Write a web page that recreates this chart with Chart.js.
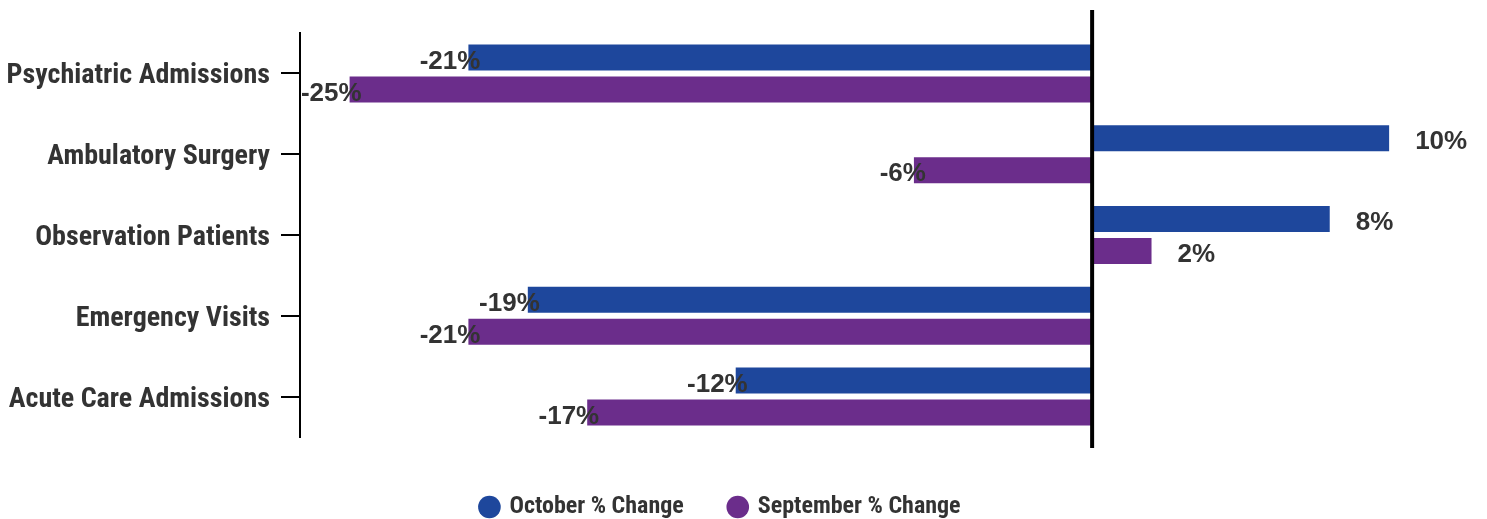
<!DOCTYPE html>
<html>
<head>
<meta charset="utf-8">
<script src="https://cdn.jsdelivr.net/npm/chart.js@4"></script>
<style>
  html, body { margin: 0; padding: 0; background: #fff; }
  #wrap { width: 1487px; height: 519px; }
</style>
</head>
<body>
<div id="wrap"><canvas id="changeChart" width="1487" height="519"></canvas></div>
<script>
// Data
const categories = ['Psychiatric Admissions', 'Ambulatory Surgery', 'Observation Patients', 'Emergency Visits', 'Acute Care Admissions'];
const octoberChange = [-21, 10, 8, -19, -12];
const septemberChange = [-25, -6, 2, -21, -17];
const seriesNames = ['October % Change', 'September % Change'];

const condensed = "'Roboto Condensed', 'Liberation Sans Narrow', 'DejaVu Sans Condensed', sans-serif";

// Thick black line at zero
const zeroLine = {
    id: 'zeroLine',
    afterDatasetsDraw(chart) {
        const ctx = chart.ctx;
        const x = chart.scales.x.getPixelForValue(0);
        ctx.save();
        ctx.strokeStyle = '#000';
        ctx.lineWidth = 4;
        ctx.beginPath();
        ctx.moveTo(x, chart.chartArea.top - 23);
        ctx.lineTo(x, chart.chartArea.bottom + 11);
        ctx.stroke();
        ctx.restore();
    }
};

// Value labels at the end of each bar
const valueLabels = {
    id: 'valueLabels',
    afterDatasetsDraw(chart) {
        const ctx = chart.ctx;
        ctx.save();
        ctx.font = "bold 26px 'Liberation Sans', Arial, sans-serif";
        ctx.fillStyle = '#333333';
        ctx.textBaseline = 'middle';
        chart.data.datasets.forEach((ds, i) => {
            chart.getDatasetMeta(i).data.forEach((bar, j) => {
                const v = ds.data[j];
                if (v < 0) {
                    ctx.textAlign = 'right';
                    ctx.fillText(v + '%', bar.x + 12, bar.y + 4);
                } else {
                    ctx.textAlign = 'left';
                    ctx.fillText(v + '%', bar.x + 26, bar.y + 4);
                }
            });
        });
        ctx.restore();
    }
};

const ctx = document.getElementById('changeChart').getContext('2d');
new Chart(ctx, {
    type: 'bar',
    data: {
        labels: categories,
        datasets: [{
            label: seriesNames[0],
            data: octoberChange,
            backgroundColor: '#1E479C'
        }, {
            label: seriesNames[1],
            data: septemberChange,
            backgroundColor: '#6B2D8B'
        }]
    },
    options: {
        indexAxis: 'y',
        responsive: false,
        animation: false,
        categoryPercentage: 0.792,
        barPercentage: 0.8125,
        layout: { padding: { top: 33, right: 45, left: 0, bottom: 0 } },
        scales: {
            x: {
                min: -26.67,
                max: 11.78,
                ticks: { display: false },
                grid: { display: false },
                border: { display: false },
                afterFit(scale) { scale.height = 12; }
            },
            y: {
                grid: {
                    offset: false,
                    drawOnChartArea: false,
                    tickLength: 19,
                    color: '#000',
                    lineWidth: 2
                },
                border: { display: true, color: '#000', width: 2 },
                ticks: {
                    color: '#333333',
                    padding: 11,
                    labelOffset: 3,
                    font: { family: condensed, size: 28, weight: 'bold' }
                },
                afterFit(scale) { scale.width = 300; }
            }
        },
        plugins: {
            tooltip: { enabled: false },
            legend: {
                position: 'bottom',
                maxHeight: 70,
                labels: {
                    usePointStyle: true,
                    pointStyle: 'circle',
                    boxWidth: 16,
                    boxHeight: 16,
                    padding: 46,
                    color: '#333333',
                    font: { family: condensed, size: 24, weight: 'bold' }
                }
            }
        }
    },
    plugins: [zeroLine, valueLabels]
});
</script>
</body>
</html>
